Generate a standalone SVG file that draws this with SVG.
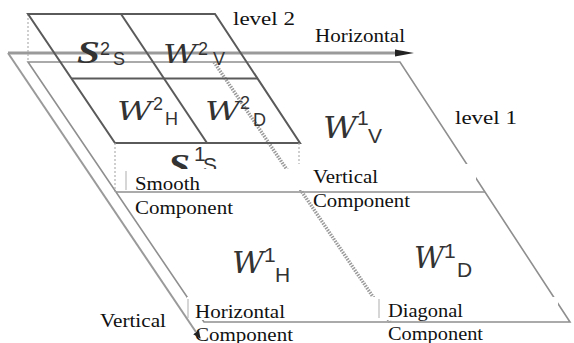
<svg xmlns="http://www.w3.org/2000/svg" width="574" height="343" viewBox="0 0 574 343">
<style>
.lbl{font-family:"Liberation Serif","Times New Roman",serif;font-size:18px;fill:#111}
.S{font-family:"Liberation Serif",serif;font-style:italic;font-weight:bold;font-size:32px;fill:#333}
.W{font-family:"DejaVu Serif",serif;font-style:italic;font-size:26px;fill:#333}
.W1{font-family:"DejaVu Serif",serif;font-style:italic;font-size:30px;fill:#333}
.sx{font-family:"Liberation Sans Narrow","Liberation Sans",sans-serif;font-size:18px;fill:#333}
.sx1{font-family:"Liberation Sans Narrow","Liberation Sans",sans-serif;font-size:21px;fill:#333}
.e1{stroke:#8f8f8f;stroke-width:1.6;fill:none}
.e2{stroke:#5a5a5a;stroke-width:2;fill:none}
.dot{stroke:#b0b0b0;stroke-width:1.2;stroke-dasharray:2 2;fill:none}
.box{fill:#fff}
.boxedge{stroke:#c8c8c8;stroke-width:1.5}
</style>
<defs>
<marker id="ah" markerWidth="8" markerHeight="8" refX="7" refY="4" orient="auto" markerUnits="userSpaceOnUse">
<path d="M0,0.5 L8,4 L0,7.5 z" fill="#222"/>
</marker>
</defs>
<rect width="574" height="343" fill="#fff"/>

<g id="connectors">
<line id="h-axis" x1="8" y1="53" x2="404" y2="53" stroke="#9a9a9a" stroke-width="3"/>
<polygon points="395,49.5 414,53 395,56.5" fill="#222"/>
</g>

<g id="level1">
<polygon points="28,62 400,62 570,322 204,322" fill="#fff" class="e1"/>
<line x1="116" y1="192" x2="485" y2="192" class="e1" stroke-width="2"/>
<line x1="214" y1="62" x2="390" y2="322" stroke="#9a9a9a" stroke-width="3.5" stroke-dasharray="1.5 1.2"/>
<g id="w1v"><text x="323" y="138" class="W1" textLength="34" lengthAdjust="spacingAndGlyphs">W</text><text x="357" y="125" class="sx1">1</text><text x="368" y="143" class="sx1">V</text></g>
<g id="w1h"><text x="232" y="273" class="W1" textLength="32" lengthAdjust="spacingAndGlyphs">W</text><text x="264" y="262" class="sx1">1</text><text x="275" y="282" class="sx1">H</text></g>
<g id="w1d"><text x="414" y="268" class="W1" textLength="30" lengthAdjust="spacingAndGlyphs">W</text><text x="444" y="258" class="sx1">1</text><text x="457" y="277" class="sx1">D</text></g>
<g id="s1s"><text x="168" y="176" class="S" textLength="22" lengthAdjust="spacingAndGlyphs">S</text><text x="194" y="161" class="sx1">1</text><text x="203" y="172" class="sx1">S</text></g>
</g>

<g id="level2">
<line x1="28" y1="14" x2="28" y2="62" class="dot"/>
<polygon points="28,14 215,14 300,143 115,143" fill="#fff" class="e2"/>
<line x1="71.5" y1="78.5" x2="257.5" y2="78.5" class="e2"/>
<line x1="121" y1="14" x2="207" y2="143" class="e2"/>
<line x1="115" y1="143" x2="115" y2="192" class="dot"/>
<line x1="299" y1="143" x2="299" y2="192" class="dot"/>
<g id="s2s"><text x="77" y="63" class="S" textLength="23" lengthAdjust="spacingAndGlyphs">S</text><text x="100" y="55" class="sx">2</text><text x="113" y="65" class="sx">S</text></g>
<g id="w2v"><text x="163" y="63" class="W" textLength="34" lengthAdjust="spacingAndGlyphs">W</text><text x="198" y="55" class="sx">2</text><text x="213" y="65" class="sx">V</text></g>
<g id="w2h"><text x="117" y="120" class="W" textLength="35" lengthAdjust="spacingAndGlyphs">W</text><text x="153" y="110" class="sx">2</text><text x="165" y="125" class="sx">H</text></g>
<g id="w2d"><text x="205" y="120" class="W" textLength="35" lengthAdjust="spacingAndGlyphs">W</text><text x="240" y="109" class="sx">2</text><text x="253" y="126" class="sx">D</text></g>
</g>

<g id="label-boxes">
<rect x="125" y="169" width="170" height="22" class="box"/>
<line x1="126" y1="171" x2="126" y2="190" class="boxedge"/>
<rect x="295" y="164" width="181" height="26" class="box"/>
<rect x="187" y="297" width="191" height="23" class="box"/>
<line x1="188" y1="299" x2="188" y2="318" class="boxedge"/>
<rect x="378" y="297" width="180" height="23" class="box"/>
<line x1="379" y1="299" x2="379" y2="318" class="boxedge"/>
</g>

<g id="texts">
<text x="233" y="25" class="lbl" textLength="62" lengthAdjust="spacingAndGlyphs">level 2</text>
<text x="315" y="42" class="lbl" font-size="17" textLength="90" lengthAdjust="spacingAndGlyphs">Horizontal</text>
<text x="455" y="124" class="lbl" textLength="62" lengthAdjust="spacingAndGlyphs">level 1</text>
<text x="135" y="190" class="lbl" textLength="65" lengthAdjust="spacingAndGlyphs">Smooth</text>
<text x="135" y="214" class="lbl" textLength="98" lengthAdjust="spacingAndGlyphs">Component</text>
<text x="313" y="183" class="lbl" textLength="65" lengthAdjust="spacingAndGlyphs">Vertical</text>
<text x="313" y="207" class="lbl" textLength="97" lengthAdjust="spacingAndGlyphs">Component</text>
<text x="195" y="318" class="lbl" textLength="90" lengthAdjust="spacingAndGlyphs">Horizontal</text>
<text x="195" y="341" class="lbl" textLength="98" lengthAdjust="spacingAndGlyphs">Component</text>
<text x="388" y="317" class="lbl" textLength="75" lengthAdjust="spacingAndGlyphs">Diagonal</text>
<text x="388" y="340" class="lbl" textLength="95" lengthAdjust="spacingAndGlyphs">Component</text>
<text x="100" y="327" class="lbl" textLength="66" lengthAdjust="spacingAndGlyphs">Vertical</text>
</g>

<g id="v-axis">
<line x1="8" y1="53" x2="200" y2="338" stroke="#9a9a9a" stroke-width="2" marker-end="url(#ah)"/>
</g>
</svg>
